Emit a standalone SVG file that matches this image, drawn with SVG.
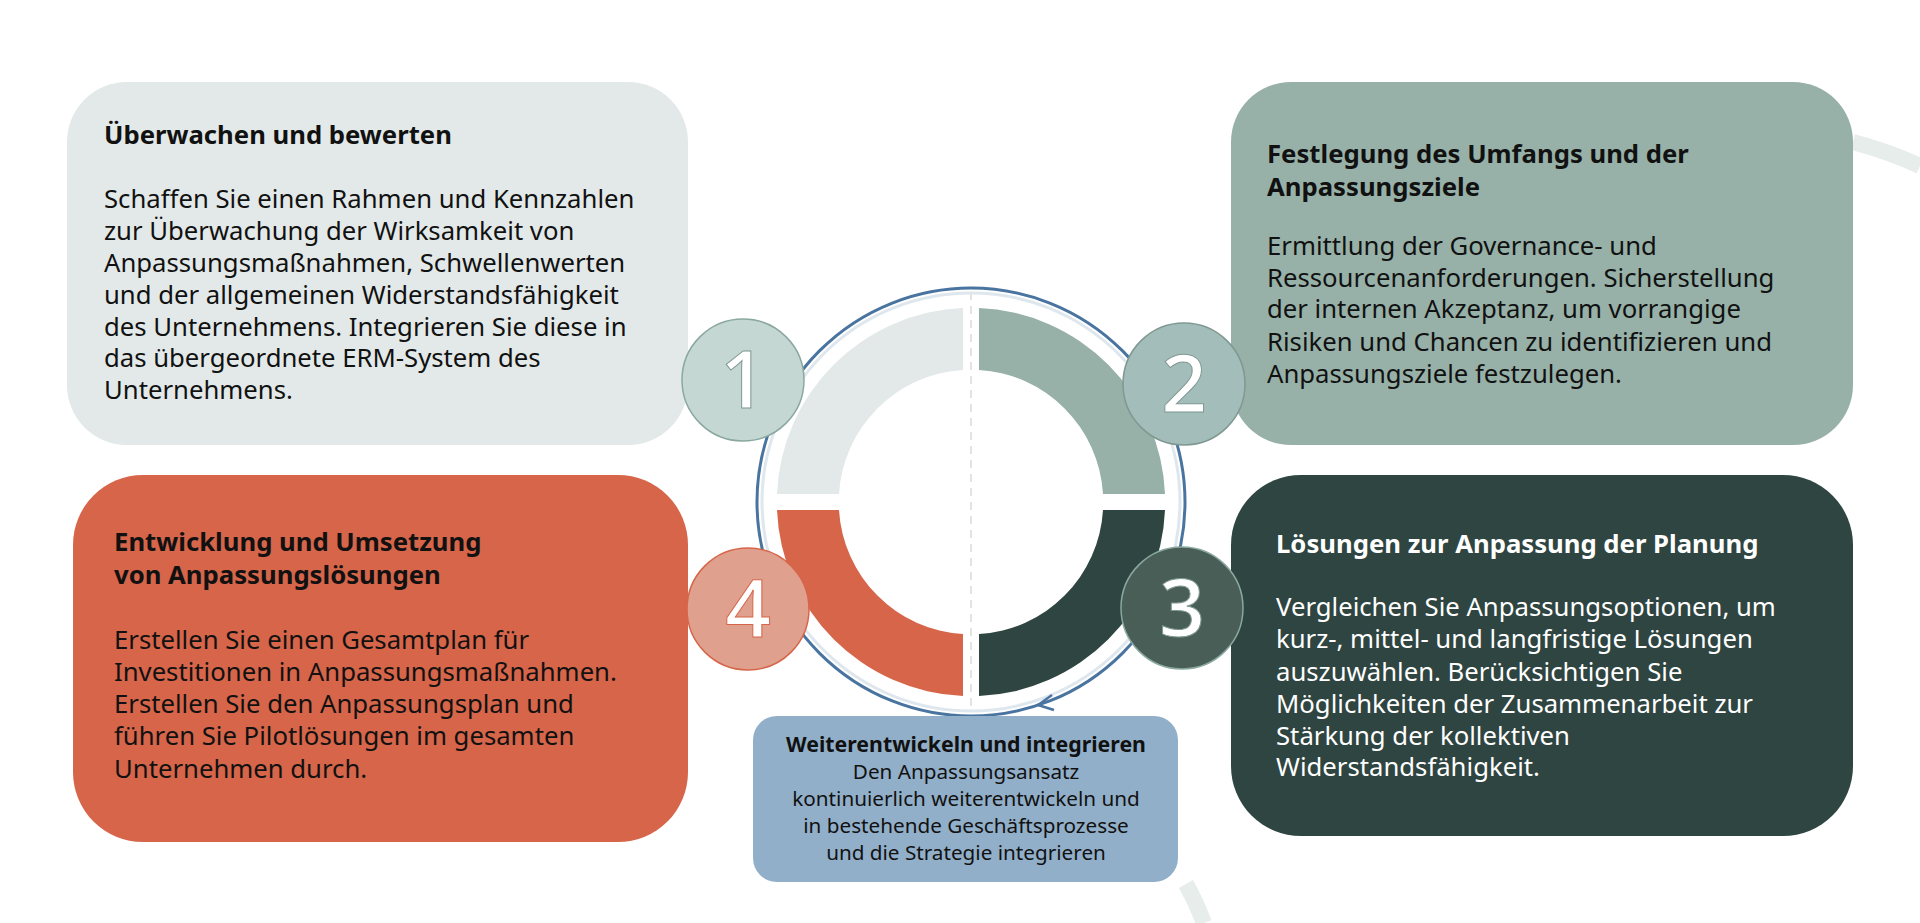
<svg xmlns="http://www.w3.org/2000/svg" width="1920" height="923" viewBox="0 0 1920 923">
<style>
.t{font-family:"Noto Sans","Open Sans",sans-serif;font-size:25.7px;fill:#111}
.b{font-weight:bold}
.w{fill:#fff}
.num{font-family:"Open Sans","Liberation Sans",sans-serif;font-size:80px;font-weight:600;fill:#fff;stroke:#7f9892;stroke-width:1;text-anchor:middle}
.s{font-family:"Noto Sans","Open Sans",sans-serif;font-size:20.7px;fill:#111;text-anchor:middle}
.sb{font-size:21.3px;font-weight:bold}
</style>
<rect width="1920" height="923" fill="#fff"/>
<g id="deco" fill="none" stroke="#e6edeb" stroke-width="16">
<path d="M1853 142 Q1890 152 1920 166"/>
<path d="M1186 884 Q1196 902 1204 923"/>
</g>
<g id="box1"><rect x="67" y="82" width="621" height="363" rx="60" fill="#e2e9e8"/>
<text class="t b" x="104" y="144">Überwachen und bewerten</text>
<text class="t" x="104" y="208">Schaffen Sie einen Rahmen und Kennzahlen</text>
<text class="t" x="104" y="240">zur Überwachung der Wirksamkeit von</text>
<text class="t" x="104" y="272">Anpassungsmaßnahmen, Schwellenwerten</text>
<text class="t" x="104" y="304">und der allgemeinen Widerstandsfähigkeit</text>
<text class="t" x="104" y="336">des Unternehmens. Integrieren Sie diese in</text>
<text class="t" x="104" y="367">das übergeordnete ERM-System des</text>
<text class="t" x="104" y="399">Unternehmens.</text></g>
<g id="box2"><rect x="1231" y="82" width="622" height="363" rx="60" fill="#97b1a8"/>
<text class="t b" x="1267" y="163">Festlegung des Umfangs und der</text>
<text class="t b" x="1267" y="196">Anpassungsziele</text>
<text class="t" x="1267" y="255">Ermittlung der Governance- und</text>
<text class="t" x="1267" y="287">Ressourcenanforderungen. Sicherstellung</text>
<text class="t" x="1267" y="318">der internen Akzeptanz, um vorrangige</text>
<text class="t" x="1267" y="351">Risiken und Chancen zu identifizieren und</text>
<text class="t" x="1267" y="383">Anpassungsziele festzulegen.</text></g>
<g id="box3"><rect x="1231" y="475" width="622" height="361" rx="70" fill="#2f4541"/>
<text class="t b w" x="1276" y="553">Lösungen zur Anpassung der Planung</text>
<text class="t w" x="1276" y="616">Vergleichen Sie Anpassungsoptionen, um</text>
<text class="t w" x="1276" y="648">kurz-, mittel- und langfristige Lösungen</text>
<text class="t w" x="1276" y="681">auszuwählen. Berücksichtigen Sie</text>
<text class="t w" x="1276" y="713">Möglichkeiten der Zusammenarbeit zur</text>
<text class="t w" x="1276" y="745">Stärkung der kollektiven</text>
<text class="t w" x="1276" y="776">Widerstandsfähigkeit.</text></g>
<g id="box4"><rect x="73" y="475" width="615" height="367" rx="70" fill="#d6654a"/>
<text class="t b" x="114" y="551">Entwicklung und Umsetzung</text>
<text class="t b" x="114" y="584">von Anpassungslösungen</text>
<text class="t" x="114" y="649">Erstellen Sie einen Gesamtplan für</text>
<text class="t" x="114" y="681">Investitionen in Anpassungsmaßnahmen.</text>
<text class="t" x="114" y="713">Erstellen Sie den Anpassungsplan und</text>
<text class="t" x="114" y="745">führen Sie Pilotlösungen im gesamten</text>
<text class="t" x="114" y="778">Unternehmen durch.</text></g>
<g id="ring">
<circle cx="971" cy="502" r="214" fill="#fff" stroke="#4a74a0" stroke-width="3"/>
<circle cx="971" cy="502" r="209" fill="none" stroke="#dfe7ee" stroke-width="3"/>
<path d="M963 308 A194 194 0 0 0 777 494 L839 494 A132 132 0 0 1 963 370 Z" fill="#e2e9e8"/>
<path d="M979 308 A194 194 0 0 1 1165 494 L1103 494 A132 132 0 0 0 979 370 Z" fill="#97b1a8"/>
<path d="M979 696 A194 194 0 0 0 1165 510 L1103 510 A132 132 0 0 1 979 634 Z" fill="#2f4541"/>
<path d="M963 696 A194 194 0 0 1 777 510 L839 510 A132 132 0 0 0 963 634 Z" fill="#d6654a"/>
<line x1="971" y1="292" x2="971" y2="712" stroke="#e3e3e3" stroke-width="2" stroke-dasharray="8 6"/>
<path d="M1052 695 L1038 705 L1054 710" fill="none" stroke="#4a74a0" stroke-width="2.5"/>
</g>
<g id="n1"><circle cx="743" cy="380" r="61" fill="#c5d7d3" stroke="#8aa8a0" stroke-width="1.5"/><text class="num" x="743" y="408">1</text></g>
<g id="n2"><circle cx="1184" cy="384" r="61" fill="#a3bdba" stroke="#7f9892" stroke-width="1.5"/><text class="num" x="1184" y="412">2</text></g>
<g id="n3"><circle cx="1182" cy="608" r="61" fill="#4a5e58" stroke="#8aa8a0" stroke-width="1.5"/><text class="num" x="1182" y="636">3</text></g>
<g id="n4"><circle cx="748" cy="609" r="61" fill="#e0a08e" stroke="#d6654a" stroke-width="1.5"/><text class="num" x="748" y="637" style="stroke:#d6654a">4</text></g>
<g id="box5"><rect x="753" y="716" width="425" height="166" rx="24" fill="#91afc9"/>
<text class="s sb" x="966" y="752">Weiterentwickeln und integrieren</text>
<text class="s" x="966" y="779">Den Anpassungsansatz</text>
<text class="s" x="966" y="806">kontinuierlich weiterentwickeln und</text>
<text class="s" x="966" y="833">in bestehende Geschäftsprozesse</text>
<text class="s" x="966" y="860">und die Strategie integrieren</text></g>
</svg>
